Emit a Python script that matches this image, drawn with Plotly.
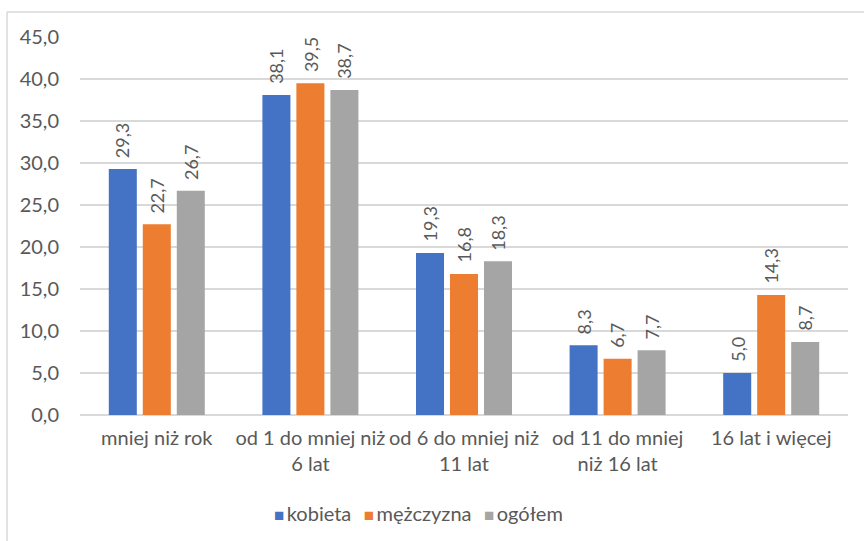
import plotly.graph_objects as go

categories = [
    "mniej niż rok",
    "od 1 do mniej niż<br>6 lat",
    "od 6 do mniej niż<br>11 lat",
    "od 11 do mniej<br>niż 16 lat",
    "16 lat i więcej",
]
kobieta = [29.3, 38.1, 19.3, 8.3, 5.0]
mezczyzna = [22.7, 39.5, 16.8, 6.7, 14.3]
ogolem = [26.7, 38.7, 18.3, 7.7, 8.7]

series = [
    ("kobieta", kobieta, "#4472C4"),
    ("mężczyzna", mezczyzna, "#ED7D31"),
    ("ogółem", ogolem, "#A5A5A5"),
]

FONT = "Lato"
LABEL_SIZE = 18
TICK_SIZE = 20
TEXT = "#595959"
GRID = "#D9D9D9"

# plot area in pixels: left 80, right 848, top 37, bottom 415
L, R, T, B = 80, 16, 37, 126
W, H = 864 - L - R, 541 - T - B

def px_x(p):
    return (p - L) / W

def px_y(p):
    return (541 - B - p) / H

BARGAP, GROUPGAP = 0.336, 0.176
slot_px = W / len(categories) * (1 - BARGAP) / len(series)

fig = go.Figure()
annotations = []
for j, (name, vals, color) in enumerate(series):
    fig.add_trace(go.Bar(
        x=categories, y=vals, name=name,
        marker=dict(color=color, line=dict(width=0)),
        showlegend=False,
    ))
    # rotated value labels above each bar
    for cat, v in zip(categories, vals):
        annotations.append(dict(
            x=cat, y=v, xref="x", yref="y",
            text=f"{v:.1f}".replace(".", ","),
            textangle=-90, showarrow=False,
            xanchor="center", yanchor="bottom",
            xshift=(j - 1) * slot_px, yshift=9,
            font=dict(family=FONT, size=LABEL_SIZE, color=TEXT),
        ))

# legend row: coloured squares followed by series names
legend_text = "\u2002\u2009".join(
    f"<span style='color:{c};font-size:17px'>■</span>\u2009{n}" for n, _, c in series
)
annotations.append(dict(
    x=px_x(418), y=px_y(513), xref="paper", yref="paper",
    text=legend_text, showarrow=False, xanchor="center", yanchor="middle",
    font=dict(family=FONT, size=TICK_SIZE, color=TEXT),
))

# outer chart frame (left and top edges)
fig.add_shape(type="line", xref="paper", yref="paper",
              x0=px_x(7), y0=px_y(545), x1=px_x(7), y1=px_y(12),
              line=dict(color=GRID, width=1.5))
fig.add_shape(type="line", xref="paper", yref="paper",
              x0=px_x(7), y0=px_y(12), x1=px_x(870), y1=px_y(12),
              line=dict(color=GRID, width=1.5))

fig.update_layout(
    width=864, height=541,
    margin=dict(l=L, r=R, t=T, b=B),
    paper_bgcolor="white", plot_bgcolor="white",
    separators=", ",
    barmode="group", bargap=BARGAP, bargroupgap=GROUPGAP,
    font=dict(family=FONT, size=TICK_SIZE, color=TEXT),
    showlegend=False,
    annotations=annotations,
    xaxis=dict(showgrid=False, showline=False, ticks="",
               ticklabelstandoff=9,
               tickfont=dict(family=FONT, size=TICK_SIZE, color=TEXT)),
    yaxis=dict(range=[0, 45], dtick=5, tickformat=".1f",
               showgrid=True, gridcolor=GRID, gridwidth=1.5,
               zeroline=True, zerolinecolor=GRID, zerolinewidth=1.5,
               showline=False, ticks="", ticklabelstandoff=20,
               tickfont=dict(family=FONT, size=TICK_SIZE, color=TEXT)),
)

fig.write_html("out.html")
